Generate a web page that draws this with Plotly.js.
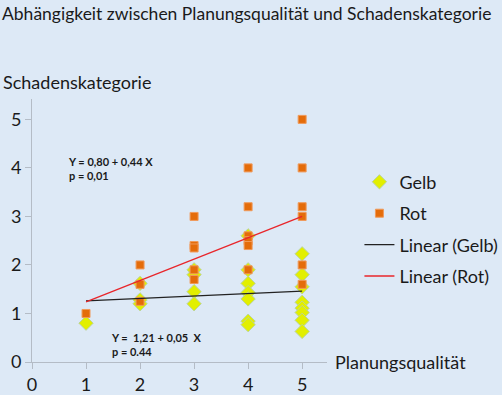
<!DOCTYPE html>
<html>
<head>
<meta charset="utf-8">
<script src="https://cdn.plot.ly/plotly-3.0.1.min.js"></script>
<style>html,body{margin:0;padding:0;background:#dde9f6;}</style>
</head>
<body>
<div id="chart" style="width:502px;height:395px;"></div>
<script>
// Data
const gelbX = [1, 2,2,2, 3,3,3,3, 4,4,4,4,4,4,4, 5,5,5,5,5,5,5,5];
const gelbY = [0.8, 1.62,1.28,1.2, 1.9,1.8,1.45,1.2, 2.6,1.9,1.62,1.43,1.3,0.84,0.77, 2.23,1.8,1.55,1.23,1.11,1.02,0.86,0.63];
const rotX = [1, 2,2,2, 3,3,3,3,3, 4,4,4,4,4,4, 5,5,5,5,5,5];
const rotY = [1.0, 2.0,1.6,1.25, 3.0,2.4,2.35,1.9,1.7, 4.0,3.2,2.6,2.5,2.4,1.9, 5.0,4.0,3.2,3.0,2.0,1.6];
// Regression coefficients shown on the chart
const gelbFit = {intercept: 1.21, slope: 0.05};
const rotFit = {intercept: 0.80, slope: 0.44};
const fitX = [1, 5];
const xTicks = [0, 1, 2, 3, 4, 5];
const yTicks = [0, 1, 2, 3, 4, 5];
const labels = {
  title: 'Abhängigkeit zwischen Planungsqualität und Schadenskategorie',
  xTitle: 'Planungsqualität',
  yTitle: 'Schadenskategorie',
  eqRot: 'Y = 0,80 + 0,44 X<br>p = 0,01',
  eqGelb: 'Y =  1,21 + 0,05  X<br>p = 0.44'
};

const FONT = 'Lato, "Open Sans", sans-serif';
const FS = 18;
const bg = '#dde9f6';
const axisCol = '#b4bcc6';
const txt = '#1a1a1a';

const traces = [
  {x: gelbX, y: gelbY, type: 'scatter', mode: 'markers', name: 'Gelb', legendgroup: 'a',
   marker: {symbol: 'diamond', size: 11, color: '#e2ef00', line: {color: '#b9d49c', width: 1}}},
  {x: rotX, y: rotY, type: 'scatter', mode: 'markers', name: 'Rot', legendgroup: 'b',
   marker: {symbol: 'square', size: 8, color: '#e46c0a', line: {color: '#f09a5a', width: 1}}},
  {x: fitX, y: fitX.map(v => gelbFit.intercept + gelbFit.slope * v), type: 'scatter', mode: 'lines',
   name: 'Linear (Gelb)', legendgroup: 'c', line: {color: '#222222', width: 1.3}},
  {x: fitX, y: fitX.map(v => rotFit.intercept + rotFit.slope * v), type: 'scatter', mode: 'lines',
   name: 'Linear (Rot)', legendgroup: 'd', line: {color: '#e8262b', width: 1.3}}
];

const layout = {
  width: 502, height: 395,
  paper_bgcolor: bg, plot_bgcolor: bg,
  margin: {l: 32, r: 175, t: 99, b: 33, pad: 0},
  font: {family: FONT, size: FS, color: txt},
  title: {text: labels.title, x: 0.004, xanchor: 'left', xref: 'container', y: 0.965, yanchor: 'middle', yref: 'container',
          font: {family: FONT, size: 17.5, color: txt}},
  xaxis: {range: [0, 5.46], tickvals: xTicks, ticktext: xTicks.map(String), showgrid: false, zeroline: false,
          showline: true, linecolor: axisCol, linewidth: 1, ticks: 'outside', ticklen: 6, tickcolor: axisCol,
          tickfont: {size: FS, color: txt}, fixedrange: true},
  yaxis: {range: [0, 5.42], tickvals: yTicks, ticktext: yTicks.map(String), showgrid: false, zeroline: false,
          showline: true, linecolor: axisCol, linewidth: 1, ticks: 'outside', ticklen: 6, tickcolor: axisCol,
          tickfont: {size: FS, color: txt}, fixedrange: true},
  showlegend: true,
  legend: {x: 0.716, xref: 'container', xanchor: 'left', y: 0.42, yref: 'container', yanchor: 'middle',
           bgcolor: 'rgba(0,0,0,0)', font: {size: FS, family: FONT, color: txt},
           tracegroupgap: 5, itemwidth: 30},
  annotations: [
    {text: labels.yTitle, xref: 'paper', yref: 'paper', x: -0.106, y: 1.065, xanchor: 'left', yanchor: 'middle',
     showarrow: false, font: {size: FS, family: FONT, color: txt}},
    {text: labels.xTitle, xref: 'paper', yref: 'paper', x: 1.02, y: 0.0, xanchor: 'left', yanchor: 'middle',
     showarrow: false, font: {size: FS, family: FONT, color: txt}},
    {text: '<b>' + labels.eqRot.replace('<br>', '</b><br><b>') + '</b>', xref: 'x', yref: 'y', x: 0.63, y: 4.3,
     xanchor: 'left', yanchor: 'top', align: 'left', showarrow: false, font: {size: 11, family: FONT, color: txt}},
    {text: '<b>' + labels.eqGelb.replace('<br>', '</b><br><b>') + '</b>', xref: 'x', yref: 'y', x: 1.42, y: 0.68,
     xanchor: 'left', yanchor: 'top', align: 'left', showarrow: false, font: {size: 11, family: FONT, color: txt}}
  ]
};

Plotly.newPlot('chart', traces, layout, {displayModeBar: false, staticPlot: true});
</script>
</body>
</html>
